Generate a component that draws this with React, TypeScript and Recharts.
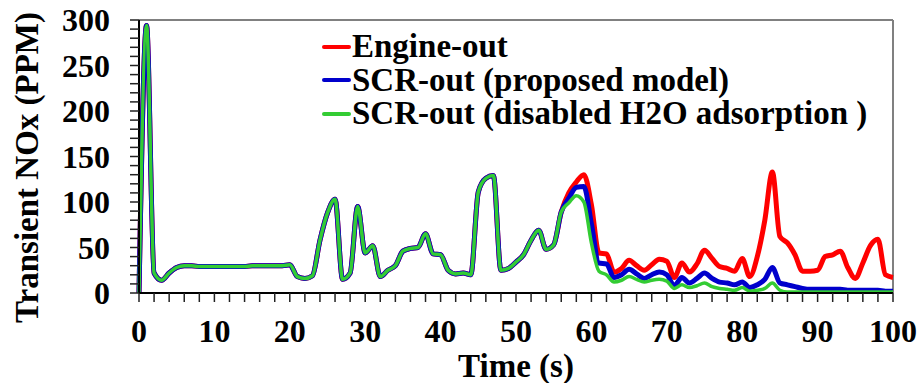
import { LineChart, Line, XAxis, YAxis, Legend, ReferenceLine } from "recharts";

// sampling grid, one point per second
const time = Array.from({ length: 101 }, (_, i) => i);

// 0–55 s: all three traces overlap
const sharedHead = [
  0, 294, 22, 14, 22, 28, 30, 30, 29, 29,
  29, 29, 29, 29, 29, 30, 30, 30, 30, 30,
  31, 18, 16, 19, 58, 88, 103, 15, 22, 95,
  44, 52, 18, 25, 30, 46, 49, 50, 65, 43,
  42, 25, 21, 22, 20, 111, 126, 129, 25, 27,
  34, 42, 58, 69, 48, 53,
];

// 56–100 s
const engineTail = [
  89, 110, 122, 130, 97, 44, 43, 23, 27, 36,
  30, 25, 31, 37, 35, 17, 33, 23, 32, 47,
  38, 29, 27, 24, 38, 18, 40, 80, 133, 62,
  55, 42, 24, 24, 25, 40, 42, 46, 28, 16,
  33, 52, 59, 20, 17,
];
const scrProposedTail = [
  89, 104, 116, 117, 76, 33, 32, 17, 20, 26,
  21, 16, 20, 23, 20, 8, 17, 11, 16, 22,
  16, 12, 11, 9, 12, 6, 9, 15, 28, 11,
  9, 7, 5, 4, 4, 4, 4, 4, 3, 3,
  3, 3, 3, 2, 2,
];
const scrNoH2OTail = [
  89, 99, 107, 100, 55, 24, 20, 12, 14, 18,
  15, 12, 14, 15, 13, 5, 9, 6, 8, 11,
  7, 5, 4, 3, 6, 2, 3, 5, 11, 3,
  1, 1, 1, 1, 1, 1, 1, 1, 1, 1,
  1, 1, 1, 1, 1,
];

const engineOut = [...sharedHead, ...engineTail];
const scrProposed = [...sharedHead, ...scrProposedTail];
const scrNoH2O = [...sharedHead, ...scrNoH2OTail];

const xTicks = Array.from({ length: 51 }, (_, i) => i * 2);
const yTicks = Array.from({ length: 31 }, (_, i) => i * 10);

const seriesInfo = [
  { key: "engine", name: "Engine-out", color: "#ff0000", width: 5 },
  { key: "proposed", name: "SCR-out (proposed model)", color: "#0000cc", width: 5 },
  { key: "noH2O", name: "SCR-out (disabled H2O adsorption )", color: "#33cc33", width: 3.5 },
];

const data = time.map((t, i) => ({
  t,
  engine: engineOut[i],
  proposed: scrProposed[i],
  noH2O: scrNoH2O[i],
}));

const FONT = '"Liberation Serif", "DejaVu Serif", serif';

const XTick = (props: any) => {
  const { x, y, payload } = props;
  if (payload.value % 10 !== 0) return <g />;
  return (
    <text x={x} y={y} dy={32} textAnchor="middle" fontSize={32} fontWeight="bold" fill="#000" style={{ fontFamily: FONT }}>
      {payload.value}
    </text>
  );
};

const YTick = (props: any) => {
  const { x, y, payload } = props;
  if (payload.value % 50 !== 0) return <g />;
  return (
    <text x={x} y={y} dy={11} textAnchor="end" fontSize={32} fontWeight="bold" fill="#000" style={{ fontFamily: FONT }}>
      {payload.value}
    </text>
  );
};

const renderYLabel = (props: any) => {
  const { viewBox } = props;
  const cx = viewBox.x + 27;
  const cy = viewBox.y + viewBox.height / 2 + 11;
  return (
    <text
      x={cx}
      y={cy}
      transform={`rotate(-90 ${cx} ${cy})`}
      textAnchor="middle"
      dominantBaseline="central"
      fontSize={33}
      fontWeight="bold"
      fill="#000"
      style={{ fontFamily: FONT }}
    >
      Transient NOx (PPM)
    </text>
  );
};

const renderXLabel = (props: any) => {
  const { viewBox } = props;
  const cx = viewBox.x + viewBox.width / 2;
  return (
    <text x={cx} y={viewBox.y + 84} textAnchor="middle" fontSize={33} fontWeight="bold" fill="#000" style={{ fontFamily: FONT }}>
      Time (s)
    </text>
  );
};

const renderLegend = () => (
  <div style={{ fontFamily: FONT, fontWeight: "bold", fontSize: 33, lineHeight: "33.5px", color: "#000" }}>
    {seriesInfo.map((s) => (
      <div key={s.key} style={{ display: "flex", alignItems: "center", whiteSpace: "nowrap" }}>
        <span style={{ display: "inline-block", width: 29, height: 4, borderRadius: 2, background: s.color, marginRight: 1 }} />
        <span>{s.name}</span>
      </div>
    ))}
  </div>
);

const App = () => {
  return (
    <div style={{ position: "absolute", left: 0, top: 0, width: 922, height: 383, background: "#fff", fontFamily: FONT }}>
      <LineChart width={922} height={383} data={data} margin={{ top: 20, right: 29, bottom: 0, left: 0 }} style={{ fontFamily: FONT }}>
        <XAxis
          dataKey="t"
          type="number"
          domain={[0, 100]}
          ticks={xTicks}
          interval={0}
          height={90}
          tickSize={9}
          tickMargin={8}
          tick={XTick}
          stroke="#000"
          axisLine={{ stroke: "#000", strokeWidth: 2 }}
          tickLine={{ stroke: "#222", strokeWidth: 1.5 }}
          label={{ content: renderXLabel }}
        />
        <YAxis
          type="number"
          domain={[0, 300]}
          ticks={yTicks}
          interval={0}
          width={139}
          tickSize={9}
          tickMargin={20}
          tick={YTick}
          axisLine={{ stroke: "#000", strokeWidth: 2 }}
          tickLine={{ stroke: "#222", strokeWidth: 1.5 }}
          label={{ content: renderYLabel }}
        />
        <ReferenceLine y={300} stroke="#808080" strokeWidth={2} />
        <ReferenceLine x={100} stroke="#808080" strokeWidth={2} />
        <Legend
          layout="vertical"
          align="center"
          verticalAlign="middle"
          content={renderLegend}
          wrapperStyle={{ position: "absolute", left: 322, top: 30, width: "auto", height: "auto" }}
        />
        {seriesInfo.map((s) => (
          <Line
            key={s.key}
            type="monotone"
            dataKey={s.key}
            name={s.name}
            stroke={s.color}
            strokeWidth={s.width}
            dot={false}
            activeDot={false}
            isAnimationActive={false}
          />
        ))}
      </LineChart>
    </div>
  );
};

export default App;
